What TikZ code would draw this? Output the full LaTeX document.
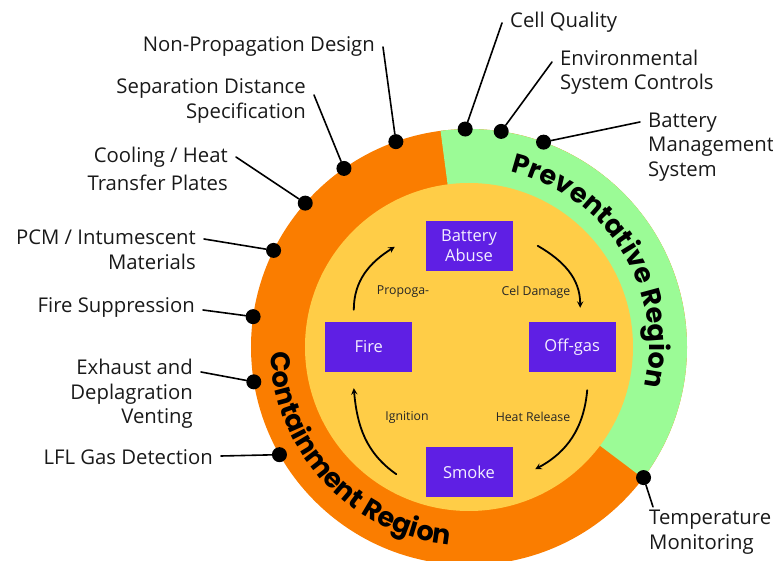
\documentclass[tikz,border=0pt]{standalone}
\usepackage{fontspec}
\setmainfont{Open Sans}
\newfontfamily\regionfont{Poppins}
\usetikzlibrary{positioning, arrows, decorations.text}
\definecolor{ringorange}{HTML}{FA7D00}
\definecolor{ringgreen}{HTML}{9BFB96}
\definecolor{coreyellow}{HTML}{FFCD47}
\definecolor{boxpurple}{HTML}{5F1FE4}
\definecolor{boxtext}{HTML}{F3EEFF}
\begin{document}
\begin{tikzpicture}[> = stealth, % arrow head style
                x = 1pt, y = 1pt, % pixel like units, origin at the hub
                line cap = round
            ]

            \tikzstyle{box}=[fill = boxpurple, text = boxtext, minimum width = 87pt,
            minimum height = 50pt, align = center, inner sep = 2pt,
            font = \fontsize{16.5}{19.5}\selectfont]
            \tikzstyle{lbl}=[inner xsep = 8pt, inner ysep = 3pt, text = black!90,
            font = \fontsize{20.3}{24.5}\selectfont]
            \tikzstyle{dot}=[circle, fill = black, inner sep = 0pt, minimum size = 15pt]
            \tikzstyle{conn}=[line width = 1.6pt]
            \tikzstyle{flow}=[->, line width = 1.8pt]
            \tikzstyle{step label}=[font = \fontsize{12.3}{14}\selectfont, text = black!85]

            \useasboundingbox (-469,-214) rectangle (304,347);

            % rings
            \fill[ringorange] (0,0) circle (218);
            \fill[ringgreen] (0,0) -- (-37:218) arc (-37:97.5:218) -- cycle;
            \fill[coreyellow] (0,0) circle (164);

            \path[decorate, decoration = {text along path, text align = center,
                text = {|\regionfont\bfseries\fontsize{27}{27}\selectfont|Preventative Region}}]
                (90:180) arc (90:-26:180);
            \path[decorate, decoration = {text along path, text align = center,
                text = {|\regionfont\bfseries\fontsize{27}{27}\selectfont|Containment Region}}]
                (165:198.5) arc (165:281:198.5);

            % cycle
            \coordinate (hub) at (0,0);
            \node[box, above = 76pt of hub] (abuse) {Battery\\Abuse};
            \node[box, right = 59.5pt of hub] (offgas) {Off-gas};
            \node[box, below = 100pt of hub] (smoke) {Smoke};
            \node[box, left = 56.5pt of hub] (fire) {Fire};

            \draw[flow] ([xshift = 25pt]abuse.east) to[out = -30, in = 90]
                ([shift = {(8pt,14pt)}]offgas.north);
            \draw[flow] ([shift = {(15pt,-18pt)}]offgas.south) to[out = -95, in = 28]
                ([shift = {(22.5pt,3pt)}]smoke.east);
            \draw[flow] ([shift = {(-29pt,-2pt)}]smoke.west) to[out = 145, in = -85]
                ([shift = {(-15pt,-16pt)}]fire.south);
            \draw[flow] ([shift = {(-15pt,12pt)}]fire.north) to[out = 90, in = 212]
                ([shift = {(-30.5pt,-1pt)}]abuse.west);

            \node[step label] (propag) at (-66,55) {Propoga-};
            \node[step label] (celdmg) at (67,55) {Cel Damage};
            \node[step label] (ignit) at (-62,-70) {Ignition};
            \node[step label] (heatrel) at (64,-70) {Heat Release};

            % measures round the ring
            \node[dot] (dCell) at (91:218) {}; \node[dot] (dEnv) at (81.5:218) {};
            \node[dot] (dBms) at (70:218) {}; \node[dot] (dNonprop) at (109.6:218) {};
            \node[dot] (dSep) at (125:218) {}; \node[dot] (dCool) at (138.7:218) {};
            \node[dot] (dPcm) at (153.7:218) {}; \node[dot] (dFiresup) at (172:218) {};
            \node[dot] (dExhaust) at (189.2:218) {}; \node[dot] (dLfl) at (209.6:218) {};
            \node[dot] (dTemp) at (-36.8:218) {};

            \node[lbl, anchor = west] (cellq) at (33,325) {Cell Quality};
            \node[lbl, anchor = west, align = left] (envctl) at (83,275)
                {Environmental\\System Controls};
            \node[lbl, anchor = west, align = left] (bms) at (171,200)
                {Battery\\Management\\System};
            \node[lbl, anchor = east] (nonprop) at (-86,301) {Non-Propagation Design};
            \node[lbl, anchor = east, align = right] (sepdist) at (-155,246)
                {Separation Distance\\Specification};
            \node[lbl, anchor = east, align = right,
                font = \fontsize{20.3}{28}\selectfont] (cooling) at (-233,178)
                {Cooling / Heat\\Transfer Plates};
            \node[lbl, anchor = east, align = right] (pcm) at (-265,97)
                {PCM / Intumescent\\Materials};
            \node[lbl, anchor = east] (firesup) at (-266,40) {Fire Suppression};
            \node[lbl, anchor = east, align = right] (exhaust) at (-268,-47)
                {Exhaust and\\Deplagration\\Venting};
            \node[lbl, anchor = east] (lfl) at (-248,-110) {LFL Gas Detection};
            \node[lbl, anchor = west, align = left] (tempmon) at (172,-185)
                {Temperature\\Monitoring};

            \draw[conn] (dCell) -- ([yshift = -1pt]cellq.west);
            \draw[conn] (dEnv) -- ([yshift = 10pt]envctl.west);
            \draw[conn] (dBms) -- ([yshift = 25pt]bms.west);
            \draw[conn] (dNonprop) -- ([yshift = -1pt]nonprop.east);
            \draw[conn] (dSep) -- ([yshift = 6pt]sepdist.east);
            \draw[conn] (dCool) -- ([yshift = 12pt]cooling.east);
            \draw[conn] (dPcm) -- ([yshift = 11pt]pcm.east);
            \draw[conn] (dFiresup) -- ([yshift = -3pt]firesup.east);
            \draw[conn] (dExhaust) -- ([yshift = 22pt]exhaust.east);
            \draw[conn] (dLfl) -- ([yshift = 1pt]lfl.east);
            \draw[conn] (dTemp) -- ([xshift = 12pt]tempmon.north west);
\end{tikzpicture}
\end{document}
